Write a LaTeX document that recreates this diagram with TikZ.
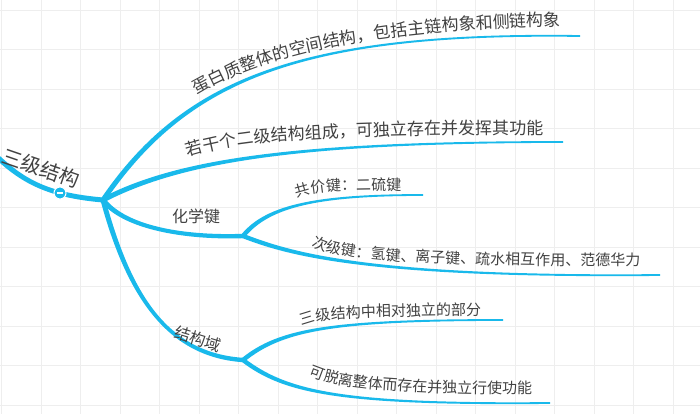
\documentclass[tikz,border=0pt]{standalone}
\usepackage{fontspec}
\newfontfamily\cjk{Noto Sans CJK SC}
\usetikzlibrary{calc,decorations.text}
\definecolor{br}{RGB}{25,185,235}
\definecolor{txt}{HTML}{424242}
\definecolor{gridc}{HTML}{EEEEEE}
\newcommand\fontA{\cjk\fontsize{17pt}{17pt}\selectfont}
\newcommand\fontB{\cjk\fontsize{15pt}{15pt}\selectfont}
% tapered branch: p0, c1, c2, p3, half width at start, half width at end
\newcommand{\taper}[6]{%
 \fill[br] ($(#1)!#5!90:(#2)$) .. controls ($(#2)!#5!-90:(#1)$) and ($(#3)!#6!90:(#4)$) .. ($(#4)!#6!-90:(#3)$)
   -- ($(#4)!#6!90:(#3)$) .. controls ($(#3)!#6!-90:(#4)$) and ($(#2)!#5!90:(#1)$) .. ($(#1)!#5!-90:(#2)$) -- cycle;}
\tikzset{
  lbl/.style={text=txt, inner sep=0pt},
  alongA/.style={decorate, decoration={text along path, text color=txt, text={|\fontA|#1}}},
  alongB/.style={decorate, decoration={text along path, text color=txt, text={|\fontB|#1}}},
}
\begin{document}
\begin{tikzpicture}[x=1pt,y=-1pt]
\useasboundingbox (0,0) rectangle (700,414);
\clip (0,0) rectangle (700,414);
\fill[white] (0,0) rectangle (700,414);
% grid
\foreach \i in {0,...,17} \draw[gridc, line width=0.7pt] (1.5+39.5*\i,0) -- (1.5+39.5*\i,414);
\foreach \j in {0,...,10} \draw[gridc, line width=0.7pt] (0,10+39.5*\j) -- (700,10+39.5*\j);
% key points
\coordinate (R0) at (-10,150);
\coordinate (B) at (103,200);
\coordinate (E1) at (580,36);
\coordinate (E2) at (563,142);
\coordinate (C) at (243,236);
\coordinate (C1) at (423,195);
\coordinate (C2) at (660,275);
\coordinate (D) at (243,360);
\coordinate (D1) at (503,320);
\coordinate (D2) at (550,403);
% branches
\taper{R0}{20,180}{45,195}{B}{2.6pt}{2.5pt}
\taper{B}{185,80}{300,32}{E1}{2.5pt}{0.9pt}
\taper{B}{180,160}{300,142}{E2}{2.5pt}{0.9pt}
\taper{B}{125,228}{185,238}{C}{2.5pt}{2.2pt}
\taper{C}{268,205}{320,195}{C1}{2.2pt}{0.9pt}
\taper{C}{285,252}{360,278}{C2}{2.2pt}{0.9pt}
\taper{B}{130,300}{170,355}{D}{2.5pt}{2.2pt}
\taper{D}{280,330}{330,320}{D1}{2.2pt}{0.9pt}
\taper{D}{285,392}{340,405}{D2}{2.2pt}{0.9pt}
% collapse toggle
\node[circle, fill=br, draw=white, line width=1pt, minimum size=12pt, inner sep=0pt] (tog) at (60,193) {};
\draw[white, line width=1.3pt] ($(tog.center)+(-3,0)$) -- ($(tog.center)+(3,0)$);
% labels
\node[lbl, rotate=-19] (root) at (41,168) {\cjk\fontsize{20pt}{20pt}\selectfont 三级结构};
\node[lbl] (chem) at (196,216) {\cjk\fontsize{16pt}{16pt}\selectfont 化学键};
\node[lbl, rotate=-17] (dom) at (198,339) {\cjk\fontsize{16pt}{16pt}\selectfont 结构域};
\path[alongA={蛋白质整体的空间结构，包括主链构象和侧链构象}] (197,95) .. controls (250,65) and (340,28) .. (575,26);
\path[alongA={若干个二级结构组成，可独立存在并发挥其功能}] (188,157) .. controls (240,140) and (320,134) .. (570,134);
\path[alongB={共价键：二硫键}] (297,198) .. controls (315,191) and (335,190) .. (425,190);
\path[alongB={次级键：氢键、离子键、疏水相互作用、范德华力}] (312,246) .. controls (335,257) and (370,266) .. (670,266);
\path[alongB={三级结构中相对独立的部分}] (302,326) .. controls (320,318) and (345,316) .. (510,315);
\path[alongB={可脱离整体而存在并独立行使功能}] (309,375) .. controls (335,386) and (365,394) .. (555,394);
\end{tikzpicture}
\end{document}
